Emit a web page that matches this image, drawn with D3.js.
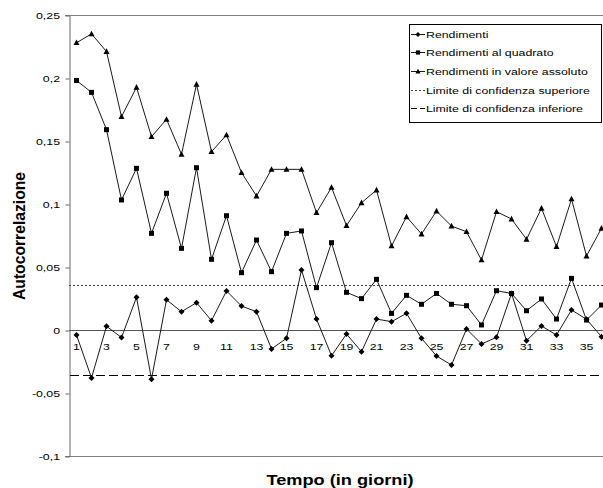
<!DOCTYPE html>
<html>
<head>
<meta charset="utf-8">
<script src="https://cdn.jsdelivr.net/npm/d3@7"></script>
<style>
  html, body { margin: 0; padding: 0; background: #fff; }
  svg { display: block; font-family: "Liberation Sans", Arial, sans-serif; }
</style>
</head>
<body>
<svg id="chart" width="603" height="488"></svg>
<script>
// Lag in days
const lags = [1, 2, 3, 4, 5, 6, 7, 8, 9, 10, 11, 12, 13, 14, 15, 16, 17, 18,
              19, 20, 21, 22, 23, 24, 25, 26, 27, 28, 29, 30, 31, 32, 33, 34, 35, 36];

// Autocorrelation of returns
const rendimenti = [-0.004, -0.038, 0.003, -0.006, 0.026, -0.039, 0.024, 0.0145, 0.0217, 0.0074,
                    0.031, 0.019, 0.0145, -0.015, -0.0066, 0.0476, 0.0087, -0.0204, -0.0032, -0.0172,
                    0.0087, 0.0066, 0.0132, -0.0066, -0.0206, -0.0278, 0.0008, -0.0111, -0.0058, 0.029,
                    -0.0085, 0.0032, -0.004, 0.0159, 0.0085, -0.0053];

// Autocorrelation of squared returns
const quadrato = [0.198, 0.1886, 0.159, 0.1032, 0.1283, 0.0767, 0.1085, 0.0648, 0.1288, 0.0561,
                  0.0907, 0.0455, 0.0714, 0.0463, 0.0767, 0.0786, 0.0336, 0.0693, 0.0299, 0.0249,
                  0.0402, 0.0132, 0.0275, 0.0204, 0.029, 0.0204, 0.0193, 0.004, 0.0312, 0.029,
                  0.0153, 0.0246, 0.0087, 0.041, 0.0079, 0.0198];

// Autocorrelation of absolute returns
const assoluto = [0.228, 0.235, 0.221, 0.1693, 0.1926, 0.1534, 0.1672, 0.1394, 0.195, 0.1415,
                  0.1548, 0.1249, 0.1063, 0.1275, 0.1275, 0.1275, 0.0931, 0.1132, 0.0828, 0.101,
                  0.1111, 0.0667, 0.0899, 0.0762, 0.0944, 0.0825, 0.078, 0.0556, 0.0939, 0.0881,
                  0.072, 0.0966, 0.0661, 0.104, 0.0587, 0.0807];

// Confidence bounds
const limiteSuperiore = 0.0355;
const limiteInferiore = -0.0355;

const yTicks = [-0.1, -0.05, 0, 0.05, 0.1, 0.15, 0.2, 0.25];
const xTickLabels = [1, 3, 5, 7, 9, 11, 13, 15, 17, 19, 21, 23, 25, 27, 29, 31, 33, 35];

const legendLabels = ["Rendimenti", "Rendimenti al quadrato", "Rendimenti in valore assoluto",
                      "Limite di confidenza superiore", "Limite di confidenza inferiore"];

// ---- layout ----
const plot = { left: 69, top: 15, bottom: 456, right: 611 };
const stretch = 1.3; // text is drawn slightly widened

const svg = d3.select("#chart");

const x = d3.scalePoint()
  .domain(lags)
  .range([plot.left + 7.5, plot.left + 7.5 + 15 * (lags.length - 1)]);

const y = d3.scaleLinear()
  .domain([-0.1, 0.25])
  .range([plot.bottom, plot.top]);

const itLocale = d3.formatLocale({ decimal: ",", thousands: ".", grouping: [3], currency: ["", " €"], minus: "-" });
const fmt = itLocale.format("~g");

// plot frame: top and bottom rules
svg.append("line")
  .attr("x1", plot.left - 4).attr("x2", 603)
  .attr("y1", y(0.25) + 0.5).attr("y2", y(0.25) + 0.5)
  .attr("stroke", "#808080");
svg.append("line")
  .attr("x1", plot.left - 4).attr("x2", 603)
  .attr("y1", y(-0.1) + 0.5).attr("y2", y(-0.1) + 0.5)
  .attr("stroke", "#808080");

// zero line
svg.append("line")
  .attr("x1", plot.left).attr("x2", 603)
  .attr("y1", y(0) + 0.5).attr("y2", y(0) + 0.5)
  .attr("stroke", "#555");

// y axis
const yAxis = svg.append("g")
  .attr("transform", `translate(${plot.left + 0.5},0.5)`)
  .call(d3.axisLeft(y).tickValues(yTicks).tickFormat(fmt).tickSize(4).tickSizeOuter(0));
yAxis.select(".domain").attr("stroke", "#666");
yAxis.selectAll(".tick line").attr("stroke", "#666");
yAxis.selectAll(".tick text")
  .attr("x", -9.5 / stretch)
  .attr("dy", "0.32em")
  .attr("transform", `scale(${stretch},1)`)
  .attr("font-size", 9.5)
  .attr("font-family", "Liberation Sans, Arial, sans-serif")
  .attr("fill", "#000");

// x axis labels sit just under the zero line
const xAxis = svg.append("g")
  .attr("transform", `translate(0,${y(0)})`)
  .call(d3.axisBottom(x).tickValues(xTickLabels).tickSize(0).tickFormat(d3.format("d")));
xAxis.select(".domain").remove();
xAxis.selectAll(".tick text")
  .attr("y", 20)
  .attr("dy", 0)
  .attr("transform", `scale(${stretch},1)`)
  .attr("x", 0)
  .attr("font-size", 9.5)
  .attr("font-family", "Liberation Sans, Arial, sans-serif")
  .attr("fill", "#000");
// keep label centres on the category positions after widening
xAxis.selectAll(".tick").each(function (d) {
  d3.select(this).attr("transform", `translate(${x(d)},0)`);
});

// confidence bounds
svg.append("line")
  .attr("x1", plot.left).attr("x2", 603)
  .attr("y1", Math.round(y(limiteSuperiore)) + 0.5).attr("y2", Math.round(y(limiteSuperiore)) + 0.5)
  .attr("stroke", "#444").attr("stroke-dasharray", "2,2");
svg.append("line")
  .attr("x1", plot.left + 1).attr("x2", 603)
  .attr("y1", Math.round(y(limiteInferiore)) + 0.5).attr("y2", Math.round(y(limiteInferiore)) + 0.5)
  .attr("stroke", "#000").attr("stroke-dasharray", "9,4");

// marker shapes
const markerPath = {
  diamond: "M0,-3L3,0L0,3L-3,0Z",
  square: "M-2.5,-2.5H2.5V2.5H-2.5Z",
  triangle: "M0,-3.2L3,2.4L-3,2.4Z"
};

const series = [
  { name: legendLabels[0], values: rendimenti, marker: "diamond" },
  { name: legendLabels[1], values: quadrato, marker: "square" },
  { name: legendLabels[2], values: assoluto, marker: "triangle" }
];

const line = d3.line()
  .x((d, i) => x(lags[i]))
  .y(d => y(d));

series.forEach(s => {
  const g = svg.append("g").attr("class", "series");
  g.append("path")
    .attr("d", line(s.values))
    .attr("fill", "none")
    .attr("stroke", "#1a1a1a")
    .attr("stroke-width", 1);
  g.selectAll("path.marker")
    .data(s.values)
    .join("path")
    .attr("class", "marker")
    .attr("d", markerPath[s.marker])
    .attr("transform", (d, i) => `translate(${x(lags[i])},${y(d)})`)
    .attr("fill", "#000");
});

// axis titles
svg.append("text")
  .attr("transform", `translate(${(plot.left + plot.right) / 2},485) scale(${stretch},1)`)
  .attr("text-anchor", "middle")
  .attr("font-size", 14)
  .attr("font-weight", "bold")
  .text("Tempo (in giorni)");

svg.append("text")
  .attr("transform", `translate(25,236) rotate(-90) scale(1,1.2)`)
  .attr("text-anchor", "middle")
  .attr("font-size", 14)
  .attr("font-weight", "bold")
  .attr("textLength", 128)
  .attr("lengthAdjust", "spacingAndGlyphs")
  .text("Autocorrelazione");

// legend
const legend = svg.append("g").attr("transform", "translate(409,24)");
legend.append("rect")
  .attr("x", 0.5).attr("y", 0.5)
  .attr("width", 192).attr("height", 98)
  .attr("fill", "#fff").attr("stroke", "#000");

const legendItems = [
  { label: legendLabels[0], marker: "diamond", dash: null, color: "#1a1a1a" },
  { label: legendLabels[1], marker: "square", dash: null, color: "#1a1a1a" },
  { label: legendLabels[2], marker: "triangle", dash: null, color: "#1a1a1a" },
  { label: legendLabels[3], marker: null, dash: "2,2", color: "#444" },
  { label: legendLabels[4], marker: null, dash: "6,3", color: "#000" }
];

const rows = legend.selectAll("g.item")
  .data(legendItems)
  .join("g")
  .attr("class", "item")
  .attr("transform", (d, i) => `translate(0,${Math.round(9.5 + i * 18.7)})`);

rows.append("line")
  .attr("x1", 2).attr("x2", 16)
  .attr("y1", 0.5).attr("y2", 0.5)
  .attr("stroke", d => d.color)
  .attr("stroke-dasharray", d => d.dash);

rows.filter(d => d.marker)
  .append("path")
  .attr("d", d => markerPath[d.marker])
  .attr("transform", "translate(9,0.5) scale(0.85)")
  .attr("fill", "#000");

rows.append("text")
  .attr("transform", `translate(17,3.5) scale(${stretch},1)`)
  .attr("font-size", 9.5)
  .attr("fill", "#000")
  .text(d => d.label);
</script>
</body>
</html>
